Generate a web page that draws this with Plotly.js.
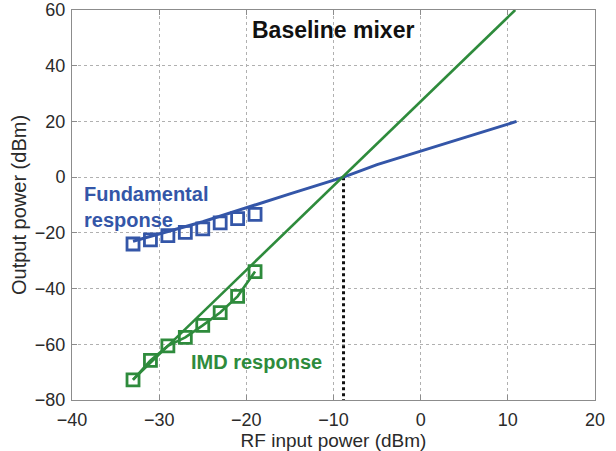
<!DOCTYPE html>
<html>
<head>
<meta charset="utf-8">
<script src="https://cdn.plot.ly/plotly-3.0.1.min.js"></script>
<style>html,body{margin:0;padding:0;background:#fff;}#chart{width:616px;height:451px;}</style>
</head>
<body>
<div id="chart"></div>
<script>
// Measured points (squares)
const inputPower = [-33, -31, -29, -27, -25, -23, -21, -19];
const fundMeasured = [-24.0, -22.5, -21.0, -19.8, -18.6, -16.4, -14.9, -13.4];
const imdMeasured = [-72.8, -65.8, -60.6, -57.5, -53.2, -48.6, -42.8, -33.9];

// Simulated / extrapolated responses (solid lines)
const fundSimX = [-33, -25, -15, -8.85, -5, 0, 11];
const fundSimY = [-23, -16, -6, 0, 4.5, 9.4, 20];
const imdSimX = [-33, 10.85];
const imdSimY = [-72.7, 60];

// Intercept marker (dotted vertical)
const interceptX = [-8.85, -8.85];
const interceptY = [0, -80];

const xTicks = [-40, -30, -20, -10, 0, 10, 20];
const yTicks = [-80, -60, -40, -20, 0, 20, 40, 60];

const blue = '#3456a8';
const green = '#2e8b3c';

const traces = [
  {x: interceptX, y: interceptY, mode: 'lines', line: {color: '#111', width: 3, dash: 'dot'}, hoverinfo: 'skip'},
  {x: fundSimX, y: fundSimY, mode: 'lines', line: {color: blue, width: 3}},
  {x: imdSimX, y: imdSimY, mode: 'lines', line: {color: green, width: 2.6}},
  {x: inputPower, y: imdMeasured, mode: 'lines+markers', line: {color: green, width: 2.6},
   marker: {symbol: 'square-open', size: 12, color: green, line: {width: 2.8, color: green}}},
  {x: inputPower, y: fundMeasured, mode: 'markers',
   marker: {symbol: 'square-open', size: 12, color: blue, line: {width: 2.8, color: blue}}}
];

const axisCommon = {
  showgrid: true, gridcolor: '#b0b0b0', griddash: 'dot', gridwidth: 1,
  zeroline: false, showline: true, linecolor: '#8c8c8c', linewidth: 1, mirror: 'ticks',
  ticks: 'inside', ticklen: 5, tickcolor: '#8c8c8c',
  tickfont: {family: 'Liberation Sans, Arial, sans-serif', size: 18, color: '#2a2a2a'}
};

const layout = {
  width: 616, height: 451,
  margin: {l: 72, r: 21, t: 10, b: 51},
  paper_bgcolor: '#fff', plot_bgcolor: '#fff',
  showlegend: false,
  xaxis: Object.assign({}, axisCommon, {
    range: [-40, 20], tickvals: xTicks, ticktext: xTicks.map(v => v < 0 ? '\u2212' + Math.abs(v) : String(v)),
    title: {text: 'RF input power (dBm)', standoff: 5, font: {family: 'Liberation Sans, Arial, sans-serif', size: 19, color: '#2a2a2a'}},
    ticklabelstandoff: 3
  }),
  yaxis: Object.assign({}, axisCommon, {
    range: [-80, 60], tickvals: yTicks, ticktext: yTicks.map(v => v < 0 ? '\u2212' + Math.abs(v) : String(v)),
    ticklabelstandoff: 2,
    title: {text: 'Output power (dBm)', standoff: 2, font: {family: 'Liberation Sans, Arial, sans-serif', size: 20, color: '#2a2a2a'}}
  }),
  annotations: [
    {x: -10.1, y: 53, xref: 'x', yref: 'y', text: '<b>Baseline mixer</b>', showarrow: false,
     font: {family: 'Liberation Sans, Arial, sans-serif', size: 23, color: '#111'}, xanchor: 'center', yanchor: 'middle'},
    {x: -38.8, y: -10.6, xref: 'x', yref: 'y', text: '<b>Fundamental<br>response</b>', showarrow: false, align: 'left',
     font: {family: 'Liberation Sans, Arial, sans-serif', size: 20, color: blue}, xanchor: 'left', yanchor: 'middle'},
    {x: -26.6, y: -66.5, xref: 'x', yref: 'y', text: '<b>IMD response</b>', showarrow: false,
     font: {family: 'Liberation Sans, Arial, sans-serif', size: 20, color: green}, xanchor: 'left', yanchor: 'middle'}
  ]
};

Plotly.newPlot('chart', traces, layout, {staticPlot: true, displayModeBar: false});
</script>
</body>
</html>
